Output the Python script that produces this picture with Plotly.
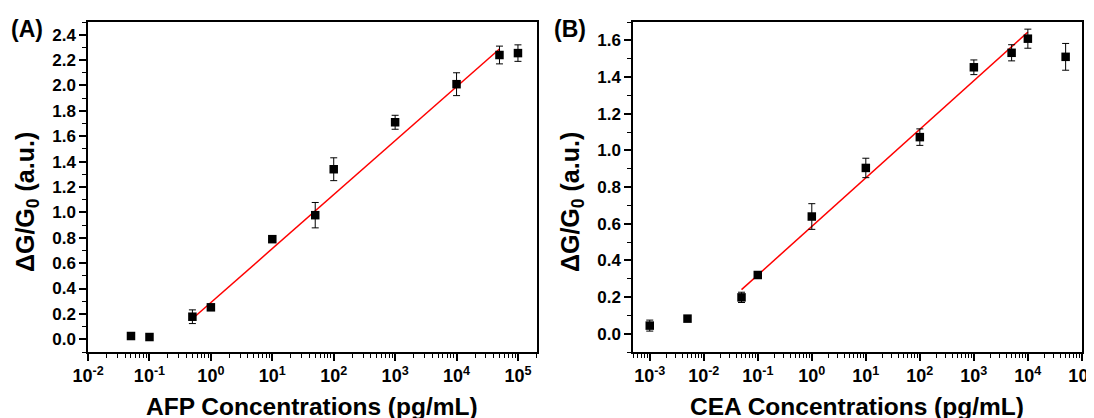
import numpy as np
import plotly.graph_objects as go

# ---- Panel A: AFP ----
afp_conc = [0.05, 0.1, 0.5, 1, 10, 50, 100, 1000, 10000, 50000, 100000]
afp_resp = [0.026, 0.018, 0.178, 0.252, 0.789, 0.978, 1.34, 1.71, 2.01, 2.24, 2.255]
afp_err = [0.0, 0.0, 0.054, 0.01, 0.0, 0.10, 0.09, 0.055, 0.09, 0.07, 0.065]
afp_fit_range = [0.5, 50000]
afp_fit_coef = [0.425, 0.29]  # slope, intercept (vs log10 concentration)

# ---- Panel B: CEA ----
cea_conc = [0.001, 0.005, 0.05, 0.1, 1, 10, 100, 1000, 5000, 10000, 50000]
cea_resp = [0.044, 0.082, 0.198, 0.32, 0.639, 0.904, 1.072, 1.453, 1.532, 1.609, 1.51]
cea_err = [0.03, 0.015, 0.028, 0.015, 0.07, 0.053, 0.045, 0.04, 0.044, 0.052, 0.073]
cea_fit_range = [0.05, 10000]
cea_fit_coef = [0.265, 0.585]

afp_xticks = [-2, -1, 0, 1, 2, 3, 4, 5]
cea_xticks = [-3, -2, -1, 0, 1, 2, 3, 4, 5]

x_titles = ["AFP Concentrations (pg/mL)", "CEA Concentrations (pg/mL)"]
y_title = "ΔG/G<sub>0</sub> (a.u.)"
panel_labels = ["(A)", "(B)"]

FONT = "Arial, Liberation Sans, sans-serif"
OFF = 8  # page body margin
W, H = 1094 - OFF, 418 - OFF

fig = go.Figure()


def add_panel(conc, resp, err, fit_range, coef, xa, ya):
    fx = np.logspace(np.log10(fit_range[0]), np.log10(fit_range[1]), 50)
    fy = coef[0] * np.log10(fx) + coef[1]
    fig.add_trace(go.Scatter(x=fx, y=fy, mode="lines",
                             line=dict(color="#ff0000", width=1.5),
                             xaxis=xa, yaxis=ya, showlegend=False, hoverinfo="skip"))
    fig.add_trace(go.Scatter(x=conc, y=resp, mode="markers",
                             marker=dict(symbol="square", size=8.5, color="black"),
                             error_y=dict(type="data", array=err, visible=True,
                                          color="black", thickness=1, width=3.5),
                             xaxis=xa, yaxis=ya, showlegend=False))


add_panel(afp_conc, afp_resp, afp_err, afp_fit_range, afp_fit_coef, "x", "y")
add_panel(cea_conc, cea_resp, cea_err, cea_fit_range, cea_fit_coef, "x2", "y2")

tickfont = dict(family=FONT, size=17, color="black", weight="bold")
xtickfont = dict(family=FONT, size=18, color="black", weight="bold")
titlefont = dict(family=FONT, size=24.5, color="black", weight="bold")
ytitlefont = dict(family=FONT, size=25, color="black", weight="bold")
labelfont = dict(family=FONT, size=23, color="black", weight="bold")


def px_x(v):
    return (v - OFF) / W


def px_y(v):
    return 1 - (v - OFF) / H


def xaxis(domain, rng, ticks, anchor):
    return dict(domain=domain, type="log", range=rng, anchor=anchor, automargin=False,
                tickvals=[10.0 ** t for t in ticks],
                ticktext=["10<sup>%d</sup>" % t for t in ticks],
                ticklabeloverflow="allow",
                tickfont=xtickfont, ticks="outside", ticklen=7, tickwidth=1.5,
                tickcolor="black",
                minor=dict(ticks="outside", ticklen=4, tickwidth=1.2, tickcolor="black",
                           dtick="D1", showgrid=False),
                showline=True, linecolor="black", linewidth=1.5, mirror=True,
                showgrid=False, zeroline=False)


def yaxis(domain, rng, dtick, anchor):
    return dict(domain=domain, range=rng, anchor=anchor, dtick=dtick, tick0=0,
                automargin=False,
                tickformat=".1f", tickfont=tickfont, ticks="outside", ticklen=7,
                tickwidth=1.5, tickcolor="black",
                minor=dict(ticks="outside", ticklen=4, tickwidth=1.2, tickcolor="black",
                           dtick=dtick / 2, showgrid=False),
                showline=True, linecolor="black", linewidth=1.5, mirror=True,
                showgrid=False, zeroline=False)


def ann(text, x, y, font, angle=0):
    return dict(text=text, x=px_x(x), y=px_y(y), xref="paper", yref="paper",
                xanchor="center", yanchor="middle", textangle=angle,
                showarrow=False, font=font)


ydom = [px_y(352), px_y(22)]
fig.update_layout(
    width=W, height=H, paper_bgcolor="white", plot_bgcolor="white",
    margin=dict(l=0, r=0, t=0, b=0, autoexpand=False),
    xaxis=xaxis([px_x(88), px_x(537)], [-2.001, 5.31], afp_xticks, "y"),
    yaxis=yaxis(ydom, [-0.1, 2.5], 0.2, "x"),
    xaxis2=xaxis([px_x(633), px_x(1082)], [-3.31, 5.002], cea_xticks, "y2"),
    yaxis2=yaxis(ydom, [-0.1, 1.7], 0.2, "x2"),
    annotations=[
        ann(panel_labels[0], 27, 29, labelfont),
        ann(panel_labels[1], 570, 29, labelfont),
        ann(x_titles[0], 312, 406, titlefont),
        ann(x_titles[1], 857, 406, titlefont),
        ann(y_title, 27, 202, ytitlefont, -90),
        ann(y_title, 572, 202, ytitlefont, -90),
    ],
)

fig.write_html("out.html")
